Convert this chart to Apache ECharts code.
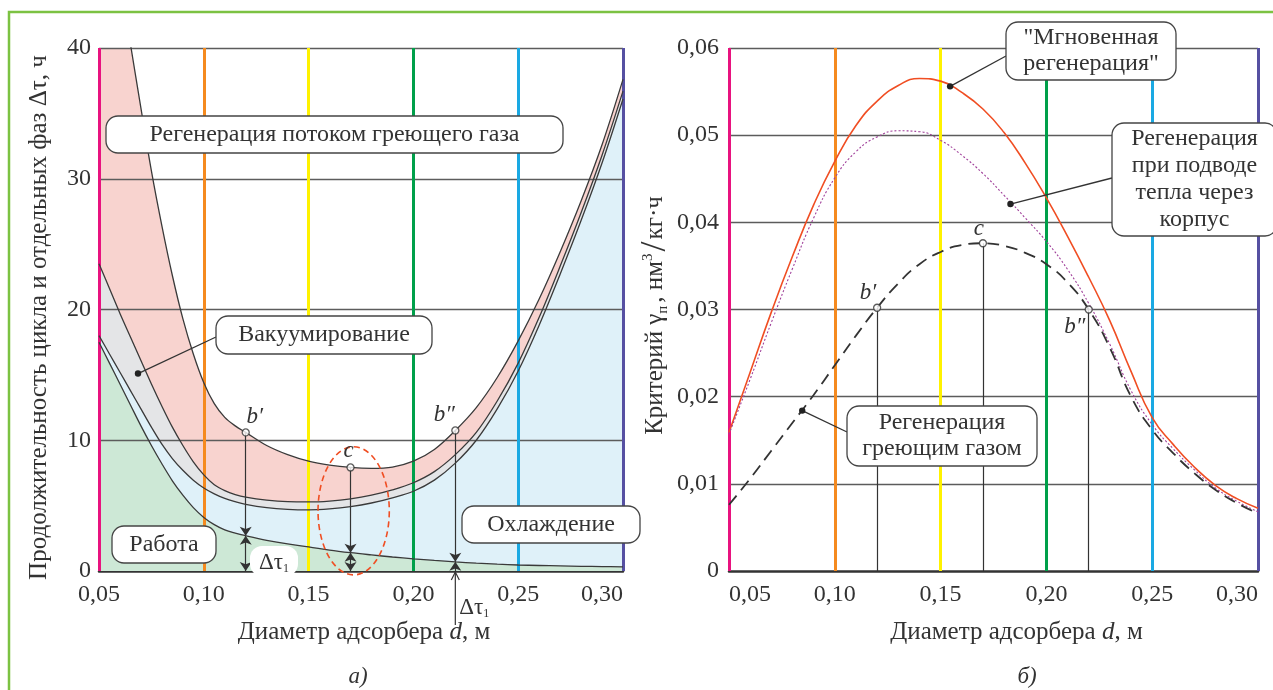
<!DOCTYPE html>
<html><head><meta charset="utf-8">
<script src="https://cdn.jsdelivr.net/npm/echarts@6/dist/echarts.min.js"></script>
<style>html,body{margin:0;padding:0;background:#fff}#c{width:1273px;height:690px}</style>
</head><body><div id="c"></div>
<script>
// ---------- DATA ----------
const xTicks = [0.05, 0.10, 0.15, 0.20, 0.25, 0.30];
const leftYTicks = [0, 10, 20, 30, 40];
const rightYTicks = [0, 0.01, 0.02, 0.03, 0.04, 0.05, 0.06];

// left chart: upper boundaries of the phase bands, hours
const dLeft = [0.05,0.055,0.06,0.065,0.07,0.075,0.08,0.085,0.09,0.095,0.10,0.105,0.11,0.115,0.12,0.13,0.14,0.15,0.16,0.17,0.18,0.19,0.20,0.21,0.22,0.23,0.24,0.25,0.26,0.27,0.28,0.29,0.30];
const workTop  = [17.5,15.9,14.3,12.7,11.1,9.6,8.2,6.9,5.8,4.85,4.1,3.55,3.15,2.9,2.7,2.35,2.07,1.85,1.6,1.4,1.23,1.07,0.93,0.81,0.7,0.6,0.52,0.46,0.42,0.39,0.36,0.34,0.32];
const coolTop  = [18.0,16.6,15.2,13.8,12.4,11.0,9.7,8.6,7.7,6.95,6.35,5.9,5.55,5.3,5.1,4.85,4.72,4.68,4.75,4.92,5.2,5.6,6.1,6.95,8.25,10.0,12.4,15.3,18.8,22.7,26.8,31.2,36.1];
const vacTop   = [23.5,21.6,19.7,17.9,16.1,14.3,12.6,11.0,9.6,8.35,7.35,6.6,6.15,5.85,5.65,5.42,5.3,5.28,5.35,5.52,5.8,6.2,6.75,7.6,8.9,10.6,13.0,15.9,19.4,23.3,27.4,31.8,36.7];
const cycleTop = [56,50.5,45.2,40.3,35.4,30.6,26.4,22.6,19.3,16.6,14.4,12.8,11.75,11.1,10.6,9.6,8.9,8.4,8.1,7.92,7.85,7.95,8.4,9.3,10.75,12.5,14.8,17.6,20.8,24.4,28.3,32.6,37.6];
const leftPointX = [0.12, 0.17, 0.22];
const pointNames = ['b\u2032', 'c', 'b\u2033'];

// right chart: criterion, nm3/(kg*h)
const dRight = [0.05,0.06,0.07,0.08,0.09,0.10,0.11,0.12,0.13,0.14,0.15,0.16,0.17,0.18,0.19,0.20,0.21,0.22,0.23,0.24,0.25,0.26,0.27,0.28,0.29,0.30];
const instantRegen = [0.0159,0.0228,0.0297,0.0361,0.0420,0.0470,0.0511,0.0539,0.0557,0.0565,0.0562,0.0549,0.0530,0.0503,0.0468,0.0428,0.0384,0.0337,0.0287,0.0229,0.0176,0.0145,0.0119,0.0098,0.0083,0.0072];
const wallRegen    = [0.0157,0.0220,0.0285,0.0347,0.0405,0.0451,0.0481,0.0498,0.0505,0.0504,0.0494,0.0477,0.0456,0.0431,0.0405,0.0378,0.0346,0.0307,0.0260,0.0207,0.0168,0.0140,0.0116,0.0095,0.0080,0.0068];
const gasRegen     = [0.0076,0.0106,0.0138,0.0170,0.0202,0.0236,0.0270,0.0302,0.0330,0.0352,0.0366,0.0374,0.0376,0.0373,0.0365,0.0352,0.0331,0.0300,0.0256,0.0200,0.0162,0.0135,0.0112,0.0093,0.0078,0.0066];
const rightPointX = [0.12, 0.17, 0.22];

// ---------- STYLE ----------
const FONT = '"Liberation Serif","DejaVu Serif",serif';
const TXT = '#333';
const tickColors = ['#e8137f','#f58a1f','#fff200','#00a04a','#1aa9e3','#5650a2'];
const zip = (xs, ys) => xs.map((x, i) => [x, ys[i]]);
const at = (xs, ys, x) => ys[xs.findIndex(v => Math.abs(v - x) < 1e-9)];
const fmtX = v => v.toFixed(2).replace('.', ',');
const fmtYR = v => v === 0 ? '0' : v.toFixed(2).replace('.', ',');

function gridMarks(yVals) {
  return {
    silent: true, symbol: 'none', animation: false, label: { show: false },
    data: yVals.map(v => ({ yAxis: v, lineStyle: { color: '#5c5c5c', width: 1.4, type: 'solid' } }))
      .concat(xTicks.map((x, i) => ({ xAxis: x, lineStyle: { color: tickColors[i], width: 3, type: 'solid' } })))
  };
}
function areaSeries(data, color) {
  return { type: 'line', xAxisIndex: 0, yAxisIndex: 0, data: zip(dLeft, data), smooth: 0.35, symbol: 'none',
    lineStyle: { width: 0 }, areaStyle: { color: color, opacity: 1 }, z: 1, silent: true };
}
function curveLeft(data) {
  return { type: 'line', xAxisIndex: 0, yAxisIndex: 0, data: zip(dLeft, data), smooth: 0.35, symbol: 'none',
    lineStyle: { color: '#3a3a3a', width: 1.3 }, z: 5, silent: true };
}
const arrowSeg = (p1, p2, s1, s2) => [{ coord: p1, symbol: s1 }, { coord: p2, symbol: s2 }];

const leftPtsY = leftPointX.map(x => at(dLeft, cycleTop, x));
const leftWorkY = leftPointX.map(x => at(dLeft, workTop, x));
const rightPtsY = rightPointX.map(x => at(dRight, gasRegen, x));

const xAxisBase = (gi, alignMin) => ({
  gridIndex: gi, type: 'value', min: 0.05, max: 0.30, interval: 0.05,
  axisLine: { show: true, onZero: false, lineStyle: { color: '#333', width: 2.5 } },
  axisTick: { show: false }, splitLine: { show: false },
  axisLabel: { formatter: fmtX, fontFamily: FONT, fontSize: 24, color: TXT, margin: 12, alignMinLabel: alignMin, alignMaxLabel: 'right' },
  name: '{a|Диаметр адсорбера }{i|d}{a|, м}', nameLocation: 'middle', nameGap: 49,
  nameTextStyle: { padding: gi === 1 ? [0, 0, 0, 46] : [0, 0, 0, 6],
    rich: { a: { fontFamily: FONT, fontSize: 25, color: TXT }, i: { fontFamily: FONT, fontSize: 25, color: TXT, fontStyle: 'italic' } } }
});

const option = {
  animation: false,
  backgroundColor: '#fff',
  grid: [
    { left: 99, right: 650, top: 48, bottom: 119 },
    { left: 729, right: 15, top: 48, bottom: 119 }
  ],
  xAxis: [xAxisBase(0, 'center'), xAxisBase(1, 'left')],
  yAxis: [
    { gridIndex: 0, type: 'value', min: 0, max: 40, interval: 10,
      axisLine: { show: false }, axisTick: { show: false }, splitLine: { show: false },
      axisLabel: { fontFamily: FONT, fontSize: 24, color: TXT, margin: 8 },
      name: 'Продолжительность цикла и отдельных фаз Δτ, ч', nameLocation: 'middle', nameGap: 47,
      nameTextStyle: { fontFamily: FONT, fontSize: 25, color: TXT, padding: [0, 16, 0, 0] } },
    { gridIndex: 1, type: 'value', min: 0, max: 0.06, interval: 0.01,
      axisLine: { show: false }, axisTick: { show: false }, splitLine: { show: false },
      axisLabel: { formatter: fmtYR, fontFamily: FONT, fontSize: 24, color: TXT, margin: 10 },
      name: '{a|Критерий γ}{s|п}{a|, нм}{p|3}{l|/}{a|кг·ч}', nameLocation: 'middle', nameGap: 58,
      nameTextStyle: { padding: [0, 12, 0, 0], rich: {
        a: { fontFamily: FONT, fontSize: 25, color: TXT, lineHeight: 30 },
        s: { fontFamily: FONT, fontSize: 15, color: TXT, verticalAlign: 'bottom', lineHeight: 30, padding: [0, 3, 0, 0] },
        p: { fontFamily: FONT, fontSize: 15, color: TXT, verticalAlign: 'top', lineHeight: 30 },
        l: { fontFamily: FONT, fontSize: 36, color: TXT, lineHeight: 30, padding: [0, 2, 0, 2] } } } }
  ],
  series: [
    // left: bands drawn back to front
    areaSeries(cycleTop, '#f8d3cf'),
    areaSeries(vacTop, '#e4e5e7'),
    areaSeries(coolTop, '#dff1f9'),
    areaSeries(workTop, '#cde8d6'),
    { type: 'line', xAxisIndex: 0, yAxisIndex: 0, data: [], z: 3, markLine: gridMarks([10, 20, 30, 40]) },
    curveLeft(cycleTop), curveLeft(vacTop), curveLeft(coolTop), curveLeft(workTop),
    // left arrows
    { type: 'line', xAxisIndex: 0, yAxisIndex: 0, data: [], z: 6,
      markLine: { silent: true, animation: false, label: { show: false }, symbolSize: 9,
        lineStyle: { color: '#333', width: 1.2, type: 'solid' },
        data: [
          arrowSeg([leftPointX[0], leftPtsY[0]], [leftPointX[0], leftWorkY[0]], 'none', 'arrow'),
          arrowSeg([leftPointX[0], leftWorkY[0]], [leftPointX[0], 0], 'arrow', 'arrow'),
          arrowSeg([leftPointX[1], leftPtsY[1]], [leftPointX[1], leftWorkY[1]], 'none', 'arrow'),
          arrowSeg([leftPointX[1], leftWorkY[1]], [leftPointX[1], 0], 'arrow', 'arrow'),
          arrowSeg([leftPointX[2], leftPtsY[2]], [leftPointX[2], leftWorkY[2]], 'none', 'arrow'),
          arrowSeg([leftPointX[2], 0], [leftPointX[2], leftWorkY[2]], 'none', 'arrow')
        ] } },
    { type: 'scatter', xAxisIndex: 0, yAxisIndex: 0, data: zip(leftPointX, leftPtsY), symbol: 'circle', symbolSize: 7,
      itemStyle: { color: '#fff', borderColor: '#333', borderWidth: 1.3 }, z: 8, silent: true },

    // right
    { type: 'line', xAxisIndex: 1, yAxisIndex: 1, data: [], z: 2, markLine: gridMarks([0.01, 0.02, 0.03, 0.04, 0.05, 0.06]) },
    { type: 'line', xAxisIndex: 1, yAxisIndex: 1, data: [], z: 3,
      markLine: { silent: true, animation: false, label: { show: false }, symbol: 'none',
        lineStyle: { color: '#333', width: 1.2, type: 'solid' },
        data: rightPointX.map((x, i) => [{ coord: [x, rightPtsY[i]] }, { coord: [x, 0] }]) } },
    { type: 'line', xAxisIndex: 1, yAxisIndex: 1, data: zip(dRight, instantRegen), smooth: 0.5, symbol: 'none',
      lineStyle: { color: '#f04e23', width: 1.6 }, z: 5, silent: true },
    { type: 'line', xAxisIndex: 1, yAxisIndex: 1, data: zip(dRight, wallRegen), smooth: 0.5, symbol: 'none',
      lineStyle: { color: '#a0409a', width: 1.1, type: [2, 2] }, z: 5, silent: true },
    { type: 'line', xAxisIndex: 1, yAxisIndex: 1, data: zip(dRight, gasRegen), smooth: 0.5, symbol: 'none',
      lineStyle: { color: '#333', width: 1.8, type: [12, 7] }, z: 5, silent: true },
    { type: 'scatter', xAxisIndex: 1, yAxisIndex: 1, data: zip(rightPointX, rightPtsY), symbol: 'circle', symbolSize: 7,
      itemStyle: { color: '#fff', borderColor: '#333', borderWidth: 1.3 }, z: 8, silent: true }
  ]
};

const chart = echarts.init(document.getElementById('c'));
chart.setOption(option);

// ---------- ANNOTATIONS ----------
const toL = p => chart.convertToPixel({ xAxisIndex: 0, yAxisIndex: 0 }, p);
const toR = p => chart.convertToPixel({ xAxisIndex: 1, yAxisIndex: 1 }, p);
const G = [];
const tfont = s => s + 'px ' + FONT;
function box(x, y, w, h, text, lh) {
  G.push({ type: 'rect', z: 100, shape: { x: x, y: y, width: w, height: h, r: 12 },
    style: { fill: '#fff', stroke: '#444', lineWidth: 1.3 } });
  G.push({ type: 'text', z: 101, style: { text: text, x: x + w / 2, y: y + h / 2, align: 'center', verticalAlign: 'middle',
    font: tfont(24), fill: TXT, lineHeight: lh || 26 } });
}
function leader(p1, p2) {
  G.push({ type: 'line', z: 99, shape: { x1: p1[0], y1: p1[1], x2: p2[0], y2: p2[1] }, style: { stroke: '#333', lineWidth: 1.3 } });
  G.push({ type: 'circle', z: 102, shape: { cx: p2[0], cy: p2[1], r: 3.2 }, style: { fill: '#222' } });
}
function label(p, text, dx, dy) {
  G.push({ type: 'text', z: 101, style: { text: text, x: p[0] + dx, y: p[1] + dy, align: 'center', verticalAlign: 'middle',
    font: 'italic ' + tfont(23), fill: TXT } });
}
const dtRich = { m: { font: tfont(23), fill: TXT, lineHeight: 24 }, s: { font: tfont(12), fill: TXT, verticalAlign: 'bottom', lineHeight: 24 } };

// frame
G.push({ type: 'rect', z: 0, shape: { x: 9, y: 12, width: 1300, height: 720 }, style: { fill: 'none', stroke: '#7cc242', lineWidth: 2.5 } });

// left boxes
box(106, 116, 457, 37, 'Регенерация потоком греющего газа');
box(216, 316, 216, 38, 'Вакуумирование');
leader([216, 337], toL([0.0686, 15.1]));
box(112, 526, 104, 37, 'Работа');
box(462, 506, 178, 37, 'Охлаждение');
// Δτ1 white label
G.push({ type: 'rect', z: 100, shape: { x: 250, y: 546, width: 48, height: 30, r: 12 }, style: { fill: '#fff' } });
G.push({ type: 'text', z: 101, style: { text: '{m|Δτ}{s|1}', x: 274, y: 563, align: 'center', verticalAlign: 'middle', rich: dtRich } });
// below-axis Δτ1 arrow at b''
const pb0 = toL([leftPointX[2], 0]);
G.push({ type: 'line', z: 99, shape: { x1: pb0[0], y1: pb0[1], x2: pb0[0], y2: pb0[1] + 54 }, style: { stroke: '#333', lineWidth: 1.2 } });
G.push({ type: 'polyline', z: 99, shape: { points: [[pb0[0] - 4, pb0[1] + 9], [pb0[0], pb0[1] + 1], [pb0[0] + 4, pb0[1] + 9]] }, style: { stroke: '#333', lineWidth: 1.2, fill: 'none' } });
G.push({ type: 'text', z: 101, style: { text: '{m|Δτ}{s|1}', x: pb0[0] + 4, y: pb0[1] + 37, align: 'left', verticalAlign: 'middle', rich: dtRich } });
// ellipse around c
const e1 = toL([0.1545, 9.5]), e2 = toL([0.1885, -0.3]);
G.push({ type: 'ellipse', z: 90, shape: { cx: (e1[0] + e2[0]) / 2, cy: (e1[1] + e2[1]) / 2, rx: (e2[0] - e1[0]) / 2, ry: (e2[1] - e1[1]) / 2 },
  style: { fill: 'none', stroke: '#f04e23', lineWidth: 1.6, lineDash: [6, 4] } });
// left point labels
label(toL([leftPointX[0], leftPtsY[0]]), pointNames[0], 9, -15);
label(toL([leftPointX[1], leftPtsY[1]]), pointNames[1], -2, -16);
label(toL([leftPointX[2], leftPtsY[2]]), pointNames[2], -11, -15);

// right boxes
box(1006, 22, 170, 58, '"Мгновенная\nрегенерация"', 26);
leader([1006, 56], toR([0.1545, 0.0556]));
box(1112, 123, 165, 113, 'Регенерация\nпри подводе\nтепла через\nкорпус', 27);
leader([1112, 178], toR([0.183, 0.0421]));
box(847, 406, 190, 60, 'Регенерация\nгреющим газом', 26);
leader([847, 432], toR([0.0846, 0.0184]));
label(toR([rightPointX[0], rightPtsY[0]]), pointNames[0], -9, -15);
label(toR([rightPointX[1], rightPtsY[1]]), pointNames[1], -4, -14);
label(toR([rightPointX[2], rightPtsY[2]]), pointNames[2], -14, 17);

// sub-captions
G.push({ type: 'text', z: 101, style: { text: 'а)', x: 358, y: 677, align: 'center', verticalAlign: 'middle', font: 'italic ' + tfont(23), fill: TXT } });
G.push({ type: 'text', z: 101, style: { text: 'б)', x: 1027, y: 677, align: 'center', verticalAlign: 'middle', font: 'italic ' + tfont(23), fill: TXT } });

chart.setOption({ graphic: { elements: G } });
</script></body></html>
